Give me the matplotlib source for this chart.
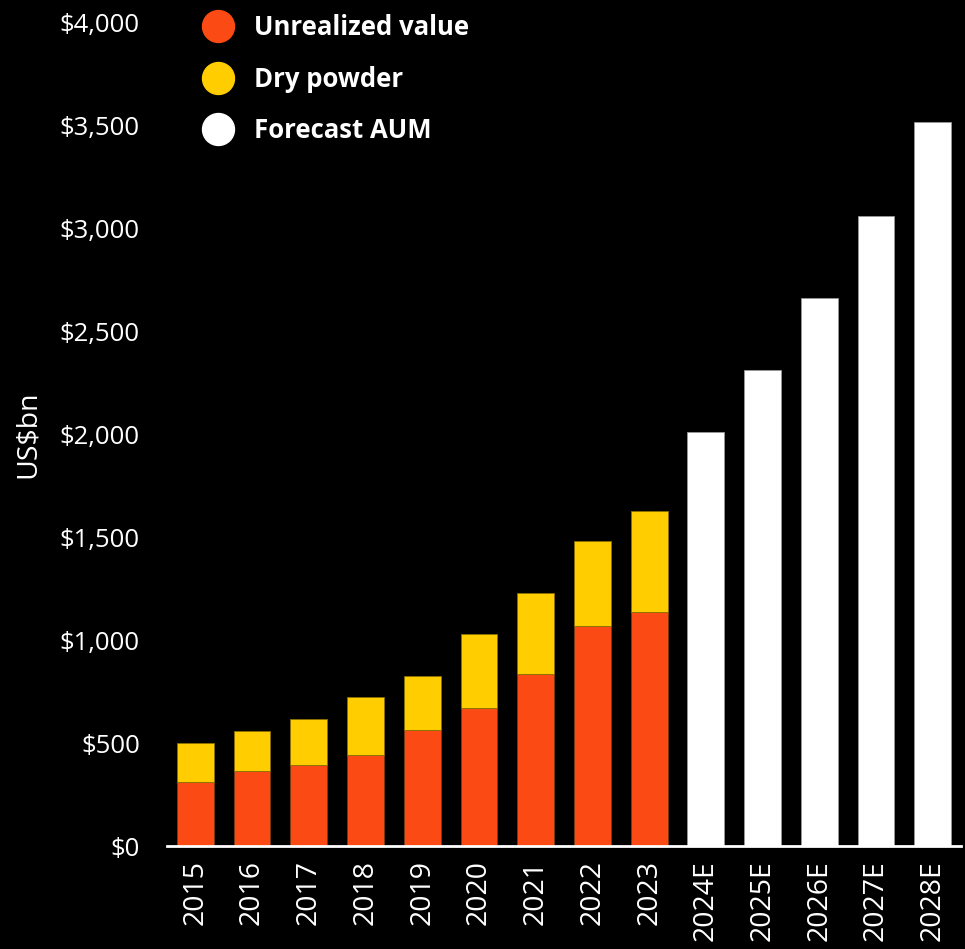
import matplotlib
matplotlib.use("Agg")
import matplotlib.pyplot as plt
from matplotlib.lines import Line2D

# Data (US$bn)
years = ['2015', '2016', '2017', '2018', '2019', '2020', '2021', '2022', '2023',
         '2024E', '2025E', '2026E', '2027E', '2028E']
unrealized = [311, 364, 393, 442, 563, 670, 835, 1068, 1136]
dry_powder = [189, 194, 224, 281, 262, 359, 393, 413, 490]
forecast = [2010, 2311, 2660, 3058, 3515]

orange = '#FC4A14'
yellow = '#FFCD00'

plt.rcParams['font.family'] = ['Open Sans', 'DejaVu Sans']

fig = plt.figure(figsize=(9.65, 9.49), dpi=100, facecolor='black')
ax = fig.add_axes([0.173, 0.1085, 0.823, 0.8683], facecolor='black')

n_hist = len(unrealized)
x_hist = list(range(n_hist))
x_fc = list(range(n_hist, n_hist + len(forecast)))
w = 0.65

ax.bar(x_hist, unrealized, width=w, color=orange, edgecolor='#7a3a10', linewidth=0.6)
ax.bar(x_hist, dry_powder, width=w, bottom=unrealized, color=yellow,
       edgecolor='#8a7000', linewidth=0.6)
ax.bar(x_fc, forecast, width=w, color='white', edgecolor='#999999', linewidth=0.6)

ax.set_xlim(-0.5, len(years) - 0.5)
ax.set_ylim(0, 4000)
ax.set_yticks(range(0, 4001, 500))
ax.set_yticklabels(['${:,}'.format(v) for v in range(0, 4001, 500)],
                   fontsize=18.5, color='white')
ax.set_xticks(range(len(years)))
ax.set_xticklabels(years, rotation=90, fontsize=20.5, color='white')
ax.tick_params(length=0)
ax.tick_params(axis='x', pad=10)
ax.tick_params(axis='y', pad=19.5)

for s in ['top', 'right', 'left']:
    ax.spines[s].set_visible(False)
ax.spines['bottom'].set_color('white')
ax.spines['bottom'].set_linewidth(2)

ax.set_ylabel('US$bn', fontsize=20.5, color='white')
ax.yaxis.set_label_coords(-0.157, 0.5)

handles = [Line2D([], [], marker='o', linestyle='none', markersize=23,
                  markerfacecolor=c, markeredgecolor=c)
           for c in [orange, yellow, 'white']]
leg = fig.legend(handles, ['Unrealized value', 'Dry powder', 'Forecast AUM'],
                 loc='upper left', bbox_to_anchor=(0.1886, 0.996), frameon=False,
                 labelspacing=0.96, handletextpad=0.4, borderaxespad=0,
                 prop={'size': 18.5, 'weight': 'bold'})
for t in leg.get_texts():
    t.set_color('white')

fig.savefig('out.png', dpi=100, facecolor='black')
